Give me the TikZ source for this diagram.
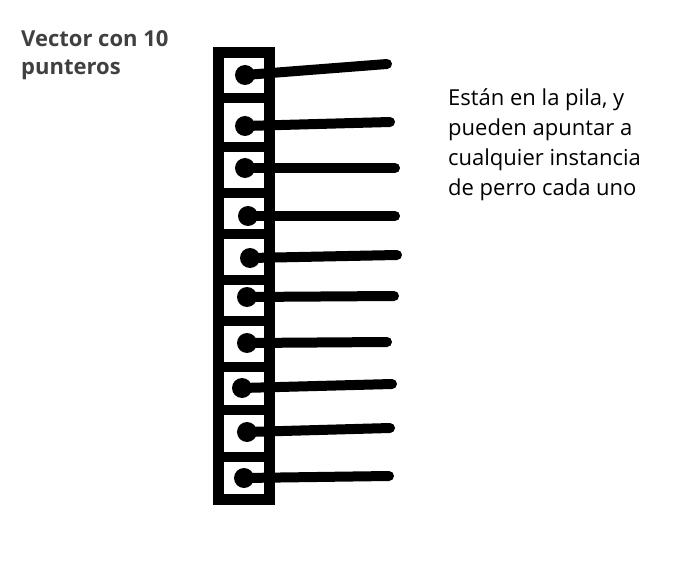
\documentclass[tikz,border=0pt]{standalone}
\usepackage{fontspec}
\setmainfont{Open Sans}
\usepackage{xcolor}
\usepackage{tikz}
\usetikzlibrary{calc, positioning}
\definecolor{titlegray}{HTML}{404040}
\begin{document}
\begin{tikzpicture}[x=1pt, y=-1pt,
			frame/.style={draw, line width=11pt},
			bar/.style={line width=10pt},
			dot/.style={fill=black, circle, minimum size=20pt, inner sep=0pt},
			pointer/.style={line width=10pt, line cap=round},
			title/.style={anchor=north west, inner sep=0pt, align=left, text=titlegray, font=\bfseries\fontsize{22}{28}\selectfont},
			note/.style={anchor=north west, inner sep=0pt, align=left, font=\fontsize{22}{30}\selectfont}
			]
			\useasboundingbox (0,0) rectangle (696,564);
			\node [title](vec) at (21,30) {Vector con 10\\punteros};
			\node [note](pila) at (448,88) {Están en la pila, y\\pueden apuntar a\\cualquier instancia\\de perro cada uno};
			% the vector
			\draw[frame] (218.5,52.5) rectangle (269.5,499.5);
			\draw[bar] (213,98) -- (275,98);
			\draw[bar] (213,147.5) -- (275,147.5);
			\draw[bar] (213,193.5) -- (275,193.5);
			\draw[bar] (213,234.5) -- (275,234.5);
			\draw[bar] (213,280) -- (275,280);
			\draw[bar] (213,321) -- (275,321);
			\draw[bar] (213,367) -- (275,367);
			\draw[bar] (213,410) -- (275,410);
			\draw[bar] (213,457) -- (275,457);
			% pointers
			\node [dot](p1) at (245,75) {};
			\node [dot](p2) at (245,126) {};
			\node [dot](p3) at (245,168) {};
			\node [dot](p4) at (248,216) {};
			\node [dot](p5) at (250,258) {};
			\node [dot](p6) at (247,297) {};
			\node [dot](p7) at (247,343) {};
			\node [dot](p8) at (242,388) {};
			\node [dot](p9) at (247,432) {};
			\node [dot](p10) at (244,478) {};
			\coordinate (t1) at (387,64);
			\coordinate (t2) at (390,122);
			\coordinate (t3) at (395,168);
			\coordinate (t4) at (395,216);
			\coordinate (t5) at (397,255);
			\coordinate (t6) at (394,296);
			\coordinate (t7) at (387,342);
			\coordinate (t8) at (392,384);
			\coordinate (t9) at (390,428);
			\coordinate (t10) at (389,476);
			\draw[pointer] (p1.center) -- (t1);
			\draw[pointer] (p2.center) -- (t2);
			\draw[pointer] (p3.center) -- (t3);
			\draw[pointer] (p4.center) -- (t4);
			\draw[pointer] (p5.center) -- (t5);
			\draw[pointer] (p6.center) -- (t6);
			\draw[pointer] (p7.center) -- (t7);
			\draw[pointer] (p8.center) -- (t8);
			\draw[pointer] (p9.center) -- (t9);
			\draw[pointer] (p10.center) -- (t10);
		\end{tikzpicture}
\end{document}
